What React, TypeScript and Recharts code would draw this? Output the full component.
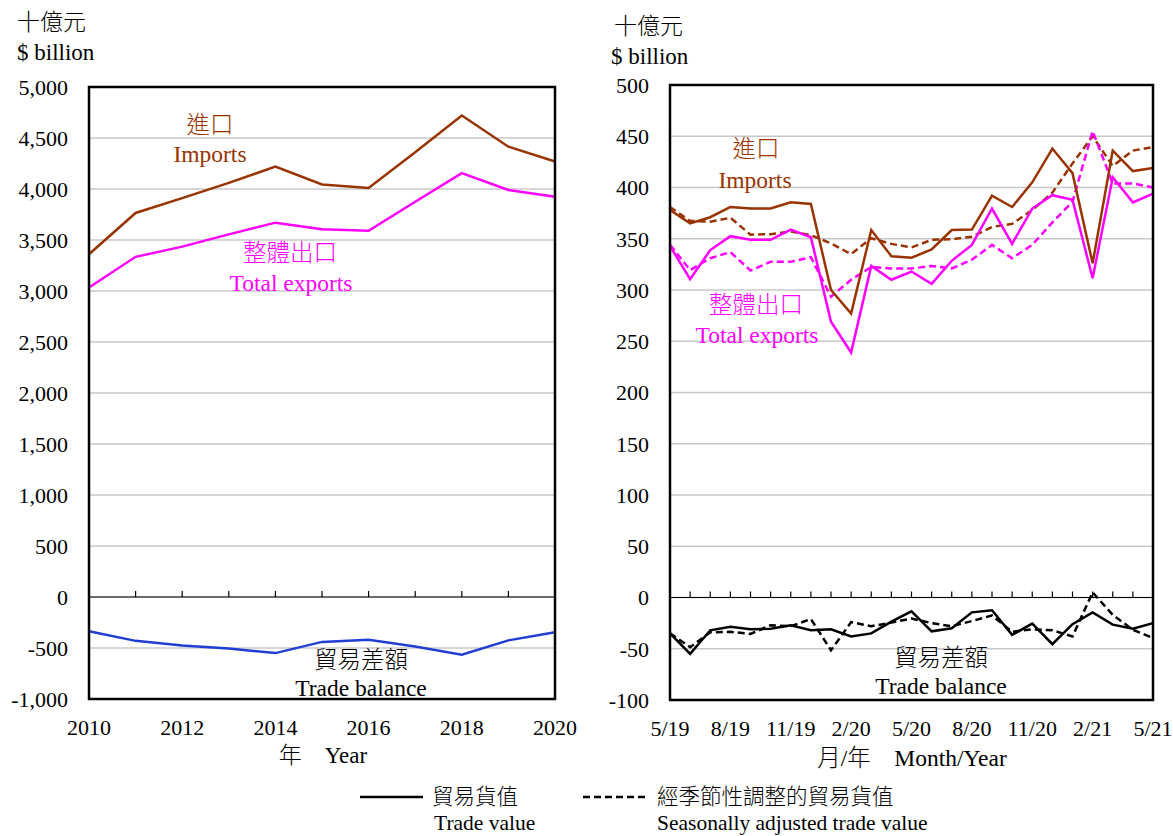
import { CartesianGrid, Line, LineChart, ReferenceLine, XAxis, YAxis } from "recharts";

// annual, 2010-2020 ($ billion)
const years = ["2010", "2011", "2012", "2013", "2014", "2015", "2016", "2017", "2018", "2019", "2020"];
const annualImports = [3360, 3765, 3910, 4060, 4220, 4045, 4010, 4360, 4720, 4415, 4270];
const annualExports = [3035, 3335, 3435, 3555, 3670, 3605, 3590, 3875, 4155, 3990, 3925];
const annualBalance = [-335, -430, -475, -505, -550, -440, -420, -485, -565, -425, -345];
const annualTicks = [-1000, -500, 0, 500, 1000, 1500, 2000, 2500, 3000, 3500, 4000, 4500, 5000];

// monthly, 5/19-5/21 ($ billion)
const months = [
  "5/19", "6/19", "7/19", "8/19", "9/19", "10/19", "11/19", "12/19",
  "1/20", "2/20", "3/20", "4/20", "5/20", "6/20", "7/20", "8/20", "9/20", "10/20", "11/20", "12/20",
  "1/21", "2/21", "3/21", "4/21", "5/21",
];
const monthImports = [378, 365, 371, 381, 379.5, 379.5, 385.5, 384, 300, 277, 358.5, 333, 331.5, 339.5, 358.5, 359, 392, 381, 405, 438, 414, 326, 436, 416, 419];
const monthImportsSA = [381, 367.5, 366.5, 370.5, 354, 354.5, 357, 353.5, 345.5, 335, 350.5, 345, 341.5, 349, 349.5, 352, 361.5, 364.5, 378, 395, 423.5, 450, 421, 436, 439.5];
const monthExports = [343, 310.5, 339, 352.5, 349, 349, 359, 351.5, 269, 239, 323.5, 310, 318, 306, 328.5, 344, 379.5, 345, 379.5, 392.5, 388, 311.5, 410, 385.5, 394];
const monthExportsSA = [344, 319.5, 331, 337, 319, 327.5, 327.5, 332, 293.5, 310, 322.5, 321, 321, 323.5, 321, 329.5, 344, 331, 344, 366, 386, 455, 404, 404, 400];
const monthBalance = [-35, -55, -32, -28.5, -31, -30.5, -27, -32, -31, -38, -35, -23.5, -13.5, -33, -30, -14.5, -12.5, -36.5, -25.5, -45.5, -26, -14.5, -26.5, -30.5, -25];
const monthBalanceSA = [-35, -48.5, -34, -33.5, -35.5, -27, -28, -21, -51.5, -24, -28, -24.5, -20.5, -25, -28, -23, -17.5, -33.5, -31, -32, -38, 5, -17, -31.5, -39.5];
const monthTicks = [-100, -50, 0, 50, 100, 150, 200, 250, 300, 350, 400, 450, 500];

const FONT = "'Liberation Serif', 'Times New Roman', 'Noto Sans CJK TC', serif";
const BROWN = "#993300";
const PINK = "#ff00ff";
const BLUE = "#1f3fd4";
const GRID = "#c8c8c8";
const DASH = "7 4";

const annualRows = years.map((year, i) => ({
  year,
  imports: annualImports[i],
  exports: annualExports[i],
  balance: annualBalance[i],
}));

const monthRows = months.map((month, i) => ({
  month,
  imports: monthImports[i],
  importsSA: monthImportsSA[i],
  exports: monthExports[i],
  exportsSA: monthExportsSA[i],
  balance: monthBalance[i],
  balanceSA: monthBalanceSA[i],
}));

// plot boxes in page pixels
const leftBox = { x: 0, w: 590, h: 760, left: 89, top: 87, right: 555, bottom: 699, min: -1000, max: 5000 };
const rightBox = { x: 590, w: 583, h: 760, left: 670, top: 85, right: 1153, bottom: 700, min: -100, max: 500 };

function zeroOf(b: typeof leftBox) {
  return b.top + ((b.bottom - b.top) * b.max) / (b.max - b.min);
}

function makeTick(b: typeof leftBox, every: number) {
  const zeroY = zeroOf(b);
  return (props: any) => {
    const { x, index, payload } = props;
    return (
      <g>
        <line x1={x} x2={x} y1={zeroY} y2={zeroY - 6} stroke="#000" strokeWidth={1.2} />
        {index % every === 0 && (
          <text x={x} y={b.bottom + 28} textAnchor="middle" dominantBaseline="central" fontSize={22} fill="#000">
            {payload.value}
          </text>
        )}
      </g>
    );
  };
}

const fmt = (v: number) => v.toLocaleString("en-US");

function AnnualChart() {
  const b = leftBox;
  return (
    <LineChart
      width={b.w}
      height={b.h}
      data={annualRows}
      margin={{ top: b.top, right: b.x + b.w - b.right, bottom: 0, left: 0 }}
    >
      <CartesianGrid vertical={false} stroke={GRID} strokeWidth={1.5} />
      <XAxis
        dataKey="year"
        interval={0}
        height={b.h - b.bottom}
        axisLine={false}
        tickLine={false}
        tickSize={0}
        tickMargin={0}
        tick={makeTick(b, 2)}
      />
      <YAxis
        type="number"
        domain={[b.min, b.max]}
        ticks={annualTicks}
        width={b.left - b.x}
        axisLine={false}
        tickLine={false}
        tickSize={0}
        tickMargin={21}
        tick={{ fontSize: 22, fill: "#000" }}
        tickFormatter={fmt}
      />
      <ReferenceLine y={0} stroke="#000" strokeWidth={1.2} />
      <Line dataKey="imports" stroke={BROWN} strokeWidth={2.5} dot={false} isAnimationActive={false} />
      <Line dataKey="exports" stroke={PINK} strokeWidth={2.5} dot={false} isAnimationActive={false} />
      <Line dataKey="balance" stroke={BLUE} strokeWidth={2.5} dot={false} isAnimationActive={false} />
    </LineChart>
  );
}

function MonthlyChart() {
  const b = rightBox;
  return (
    <LineChart
      width={b.w}
      height={b.h}
      data={monthRows}
      margin={{ top: b.top, right: b.x + b.w - b.right, bottom: 0, left: 0 }}
    >
      <CartesianGrid vertical={false} stroke={GRID} strokeWidth={1.5} />
      <XAxis
        dataKey="month"
        interval={0}
        height={b.h - b.bottom}
        axisLine={false}
        tickLine={false}
        tickSize={0}
        tickMargin={0}
        tick={makeTick(b, 3)}
      />
      <YAxis
        type="number"
        domain={[b.min, b.max]}
        ticks={monthTicks}
        width={b.left - b.x}
        axisLine={false}
        tickLine={false}
        tickSize={0}
        tickMargin={21}
        tick={{ fontSize: 22, fill: "#000" }}
      />
      <ReferenceLine y={0} stroke="#000" strokeWidth={1.2} />
      <Line dataKey="importsSA" stroke={BROWN} strokeWidth={2.5} strokeDasharray={DASH} dot={false} isAnimationActive={false} />
      <Line dataKey="exportsSA" stroke={PINK} strokeWidth={2.5} strokeDasharray={DASH} dot={false} isAnimationActive={false} />
      <Line dataKey="balanceSA" stroke="#000" strokeWidth={2.5} strokeDasharray={DASH} dot={false} isAnimationActive={false} />
      <Line dataKey="imports" stroke={BROWN} strokeWidth={2.5} dot={false} isAnimationActive={false} />
      <Line dataKey="exports" stroke={PINK} strokeWidth={2.5} dot={false} isAnimationActive={false} />
      <Line dataKey="balance" stroke="#000" strokeWidth={2.5} dot={false} isAnimationActive={false} />
    </LineChart>
  );
}

function Label({ x, y, text, color = "#000", size = 23.5, anchor = "middle" }: any) {
  return (
    <text x={x} y={y} fill={color} fontSize={size} fontWeight={300} textAnchor={anchor} dominantBaseline="central">
      {text}
    </text>
  );
}

function Overlay() {
  return (
    <svg width={1173} height={836} style={{ position: "absolute", left: 0, top: 0, pointerEvents: "none", fontFamily: FONT }}>
      {[leftBox, rightBox].map((b, i) => (
        <rect key={i} x={b.left} y={b.top} width={b.right - b.left} height={b.bottom - b.top} fill="none" stroke="#000" strokeWidth={2.5} />
      ))}

      <Label x={17} y={22} text="十億元" anchor="start" size={23} />
      <Label x={17} y={52} text="$ billion" anchor="start" size={23} />
      <Label x={614} y={26} text="十億元" anchor="start" size={23} />
      <Label x={611} y={56} text="$ billion" anchor="start" size={23} />

      <Label x={210} y={125} text="進口" color={BROWN} />
      <Label x={210} y={154} text="Imports" color={BROWN} />
      <Label x={290} y={253} text="整體出口" color={PINK} />
      <Label x={291} y={283} text="Total exports" color={PINK} />
      <Label x={361} y={660} text="貿易差額" />
      <Label x={361} y={688} text="Trade balance" />

      <Label x={756} y={149} text="進口" color={BROWN} />
      <Label x={755} y={180} text="Imports" color={BROWN} />
      <Label x={756} y={305} text="整體出口" color={PINK} />
      <Label x={757} y={335} text="Total exports" color={PINK} />
      <Label x={941} y={658} text="貿易差額" />
      <Label x={941} y={686} text="Trade balance" />

      <Label x={323} y={755} text="年　Year" size={23} />
      <Label x={912} y={758} text="月/年　Month/Year" size={23.5} />

      <line x1={360} x2={423} y1={797} y2={797} stroke="#000" strokeWidth={2.5} />
      <Label x={432} y={797} text="貿易貨值" anchor="start" size={21.5} />
      <Label x={434} y={823} text="Trade value" anchor="start" size={21.5} />
      <line x1={583} x2={649} y1={797} y2={797} stroke="#000" strokeWidth={2.5} strokeDasharray="7 4" />
      <Label x={657} y={797} text="經季節性調整的貿易貨值" anchor="start" size={21.5} />
      <Label x={657} y={823} text="Seasonally adjusted trade value" anchor="start" size={21.5} />
    </svg>
  );
}

export default function App() {
  return (
    <div style={{ position: "absolute", left: 0, top: 0, width: 1173, height: 836, background: "#fff", fontFamily: FONT }}>
      <div style={{ position: "absolute", left: leftBox.x, top: 0 }}>
        <AnnualChart />
      </div>
      <div style={{ position: "absolute", left: rightBox.x, top: 0 }}>
        <MonthlyChart />
      </div>
      <Overlay />
    </div>
  );
}
